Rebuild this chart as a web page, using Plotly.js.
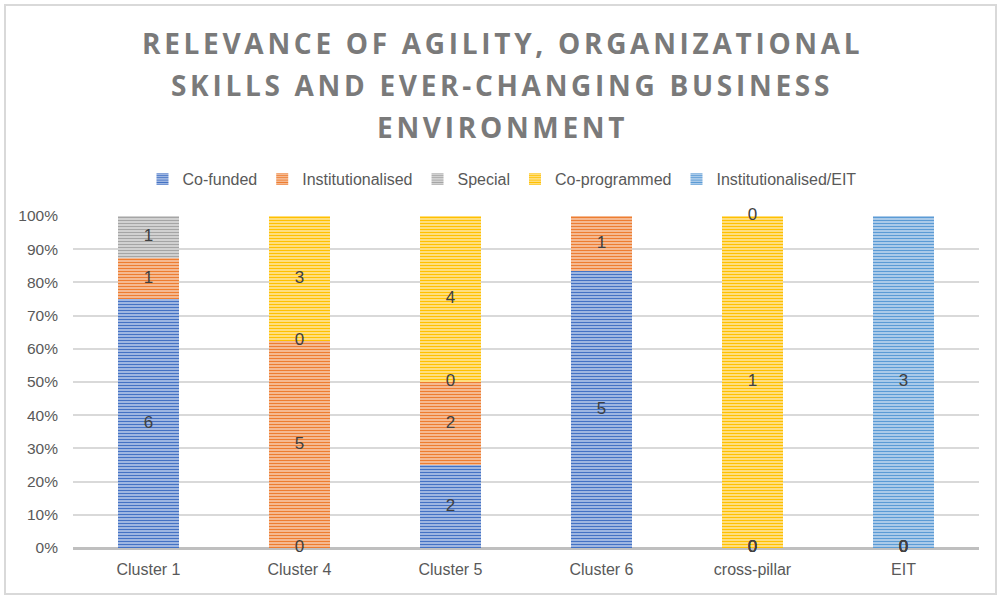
<!DOCTYPE html>
<html>
<head>
<meta charset="utf-8">
<script src="https://cdn.plot.ly/plotly-3.0.1.min.js"></script>
<style>
  html, body { margin: 0; padding: 0; background: #fff; }
  #wrap { position: relative; width: 997px; height: 595px; overflow: hidden; }
  #chart { position: absolute; left: 0; top: 0; width: 997px; height: 595px; }
  #frame { position: absolute; left: 4px; top: 4px; width: 993px; height: 591px; box-sizing: border-box;
           border: 2px solid #d9d9d9; pointer-events: none; }
  .annotation-text { letter-spacing: 3.7px; }
  .legend path.legendbar { transform: translate(12px, 0) scale(0.45, 0.75); }
</style>
</head>
<body>
<div id="wrap">
  <div id="chart"></div>
  <div id="frame"></div>
</div>
<script>
// ---- data ----
var categories = ['Cluster 1', 'Cluster 4', 'Cluster 5', 'Cluster 6', 'cross-pillar', 'EIT'];
var seriesNames = ['Co-funded', 'Institutionalised', 'Special', 'Co-programmed', 'Institutionalised/EIT'];
var coFunded          = [6, 0, 2, 5, 0, 0];
var institutionalised = [1, 5, 2, 1, 0, 0];
var special           = [1, 0, 0, null, 0, 0];
var coProgrammed      = [null, 3, 4, null, 1, 0];
var institutionalisedEIT = [null, null, null, null, 0, 3];
var titleLines = ['RELEVANCE OF AGILITY, ORGANIZATIONAL', 'SKILLS AND EVER-CHANGING BUSINESS', 'ENVIRONMENT'];

// ---- styling ----
var seriesValues = [coFunded, institutionalised, special, coProgrammed, institutionalisedEIT];
var fg = ['#4472C4', '#ED7D31', '#A5A5A5', '#FFC000', '#5B9BD5'];
var bg = ['#C9D7F0', '#FAD6BE', '#E6E6E6', '#FFEDB8', '#D0E1F3'];

var traces = [];
seriesValues.forEach(function (vals, i) {
  traces.push({
    type: 'bar',
    name: seriesNames[i],
    x: categories,
    y: vals.map(function (v) { return v === null ? 0 : v; }),
    marker: {
      color: fg[i],
      line: { width: 0 },
      pattern: { shape: '-', fgcolor: fg[i], bgcolor: bg[i], size: 3, solidity: 0.55, fillmode: 'replace' }
    },
    hoverinfo: 'skip'
  });
});

// data labels (positions derived from the values, as % of each column total)
var lx = [], ly = [], lt = [];
categories.forEach(function (c, ci) {
  var total = 0;
  seriesValues.forEach(function (vals) { if (vals[ci] !== null) total += vals[ci]; });
  var cum = 0;
  seriesValues.forEach(function (vals) {
    var v = vals[ci];
    if (v === null) return;
    var mid = (cum + v / 2) / total * 100;
    lx.push(c); ly.push(mid); lt.push(String(v));
    cum += v;
  });
});
traces.push({
  type: 'scatter', mode: 'text', x: lx, y: ly, text: lt,
  textposition: 'middle center',
  textfont: { family: 'Liberation Sans, Arial, sans-serif', size: 17, color: '#404040' },
  showlegend: false, hoverinfo: 'skip', cliponaxis: false
});

var plotL = 73, plotW = 906;
var plotTop = 216, plotBottom = 548, plotH = plotBottom - plotTop;
var annY = [43, 85, 127];
var annotations = titleLines.map(function (t, i) {
  return {
    text: '<b>' + t + '</b>', xref: 'paper', yref: 'paper',
    x: (502 - plotL) / plotW, y: (plotBottom - annY[i]) / plotH,
    xanchor: 'center', yanchor: 'middle', showarrow: false,
    font: { family: 'Open Sans, sans-serif', size: 28, color: '#7a7a7a' }
  };
});

var layout = {
  width: 997, height: 595,
  margin: { l: 73, r: 18, t: 216, b: 47, pad: 0, autoexpand: false },
  paper_bgcolor: '#ffffff', plot_bgcolor: '#ffffff',
  barmode: 'stack', barnorm: 'percent', bargap: 0.6,
  showlegend: true,
  legend: {
    orientation: 'h', xref: 'paper', yref: 'paper',
    x: (502 - plotL) / plotW, xanchor: 'center',
    y: (plotBottom - 179) / plotH, yanchor: 'middle',
    font: { family: 'Liberation Sans, Arial, sans-serif', size: 16, color: '#595959' },
    itemclick: false, itemdoubleclick: false, traceorder: 'normal'
  },
  xaxis: {
    type: 'category', showgrid: false, showline: false, zeroline: false,
    ticks: '', ticklabelstandoff: 10, tickangle: 0, automargin: false,
    tickfont: { family: 'Liberation Sans, Arial, sans-serif', size: 16, color: '#595959' },
    fixedrange: true
  },
  yaxis: {
    range: [0, 100], tickmode: 'array', automargin: false,
    tickvals: [0, 10, 20, 30, 40, 50, 60, 70, 80, 90, 100],
    ticktext: ['0%', '10%', '20%', '30%', '40%', '50%', '60%', '70%', '80%', '90%', '100%'],
    showgrid: true, gridcolor: '#d9d9d9', gridwidth: 2,
    zeroline: true, zerolinecolor: '#bfbfbf', zerolinewidth: 3,
    showline: false, ticks: '', ticklabelstandoff: 14,
    tickfont: { family: 'Liberation Sans, Arial, sans-serif', size: 15.5, color: '#595959' },
    fixedrange: true
  },
  annotations: annotations,
  hovermode: false
};

Plotly.newPlot('chart', traces, layout, { displayModeBar: false, staticPlot: true });
</script>
</body>
</html>
